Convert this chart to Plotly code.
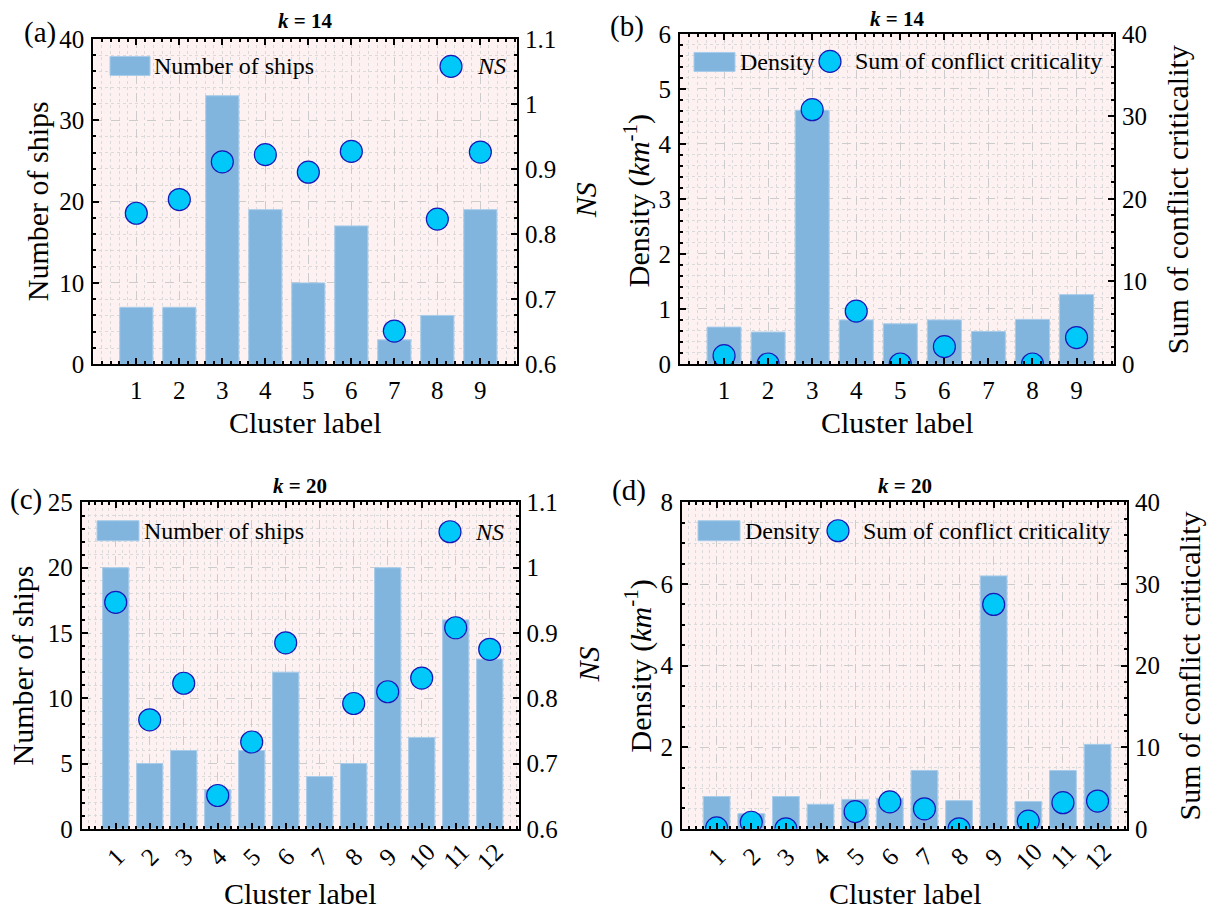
import plotly.graph_objects as go

W, H = 1212, 917

# ---------------- data ----------------
clusters_k14 = [1, 2, 3, 4, 5, 6, 7, 8, 9]
ships_k14 = [7, 7, 33, 19, 10, 17, 3, 6, 19]
ns_k14 = [0.832, 0.853, 0.911, 0.922, 0.895, 0.927, 0.651, 0.823, 0.926]
density_k14 = [0.67, 0.58, 4.61, 0.80, 0.73, 0.80, 0.59, 0.81, 1.26]
conflict_k14 = [1.0, 0.0, 30.8, 6.4, 0.0, 2.1, None, 0.0, 3.2]

clusters_k20 = [1, 2, 3, 4, 5, 6, 7, 8, 9, 10, 11, 12]
ships_k20 = [20, 5, 6, 3, 6, 12, 4, 5, 20, 7, 16, 13]
ns_k20 = [0.947, 0.767, 0.823, 0.651, 0.733, 0.885, None, 0.792, 0.810, 0.831, 0.908, 0.875]
density_k20 = [0.79, 0.37, 0.79, 0.60, 0.72, 0.75, 1.43, 0.69, 6.20, 0.67, 1.43, 2.07]
conflict_k20 = [0.1, 0.8, 0.0, None, 2.1, 3.3, 2.45, 0.0, 27.5, 0.94, 3.2, 3.4]

# ---------------- style ----------------
FONT = "Liberation Serif"
BAR_COLOR = "#81B5DE"
BAR_EDGE = "#A8CCEA"
MK_FILL = "#00C8F8"
MK_EDGE = "#1818B8"
BG = "#FDF2F1"
GRID_MAJ = "#CCCCCC"
GRID_MIN = "#DADADA"
TICK_SIZE = 25
LABEL_SIZE = 30
LEG_SIZE = 24

# vertical placement correction for the observed page rendering
V_OFF = 12.5
V_SC = 0.972


def px(x):
    return x / W


def py(y):
    return 1 - ((y - V_OFF) / V_SC) / H


panels = [
    dict(box=(93.3, 516.9, 38.3, 364.3)),
    dict(box=(680.0, 1114.0, 33.3, 364.0)),
    dict(box=(81.7, 518.6, 502.7, 829.5)),
    dict(box=(682.0, 1127.0, 502.7, 829.5)),
]

fig = go.Figure()
annotations = []
shapes = []

tick_font = dict(family=FONT, size=TICK_SIZE, color="black")


def add_panel(i, clusters, bars, pts, bar_name, pt_name, yl, yr, ylab, yrlab,
              title, tag, rotated, leg, pos):
    L, R, T, B = panels[i]["box"]
    xa = "xaxis" if i == 0 else f"xaxis{i + 1}"
    xr = "x" if i == 0 else f"x{i + 1}"
    yl_n = 2 * i + 1
    yr_n = 2 * i + 2
    yla = "yaxis" if yl_n == 1 else f"yaxis{yl_n}"
    ylr = "y" if yl_n == 1 else f"y{yl_n}"
    yra = f"yaxis{yr_n}"
    yrr = f"y{yr_n}"
    n = len(clusters)

    fig.add_trace(go.Bar(x=clusters, y=bars, name=bar_name, xaxis=xr, yaxis=ylr,
                         width=0.77, marker=dict(color=BAR_COLOR,
                                                 line=dict(color=BAR_EDGE, width=1)),
                         showlegend=False))
    fig.add_trace(go.Scatter(x=clusters, y=pts, name=pt_name, xaxis=xr, yaxis=yrr,
                             mode="markers", cliponaxis=True,
                             marker=dict(size=22, color=MK_FILL,
                                         line=dict(color=MK_EDGE, width=1.2)),
                             showlegend=False))

    fig.layout[xa] = dict(
        domain=[px(L), px(R)], anchor=ylr, range=[0, n + 0.85],
        tickmode="array", tickvals=clusters, ticktext=[str(c) for c in clusters],
        showticklabels=not rotated,
        ticks="inside", ticklen=6, tickwidth=1.5, tickcolor="black",
        showline=True, linecolor="black", linewidth=2, mirror="ticks",
        showgrid=True, gridcolor=GRID_MAJ, griddash="dash", gridwidth=1,
        zeroline=False, tickfont=tick_font, ticklabelstandoff=3,
        minor=dict(tick0=0, dtick=0.2, ticks="inside", ticklen=3, tickcolor="black",
                   showgrid=True, gridcolor=GRID_MIN, griddash="dot", gridwidth=1),
    )
    fig.layout[yla] = dict(
        domain=[py(B), py(T)], anchor=xr, range=[yl[0], yl[1]], dtick=yl[2], tick0=yl[0],
        ticks="inside", ticklen=6, tickwidth=1.5, tickcolor="black",
        showline=True, linecolor="black", linewidth=2, mirror=False,
        showgrid=True, gridcolor=GRID_MAJ, griddash="dash", gridwidth=1,
        zeroline=False, tickfont=tick_font, ticklabelstandoff=2,
        minor=dict(dtick=yl[3], ticks="inside", ticklen=3, tickcolor="black",
                   showgrid=True, gridcolor=GRID_MIN, griddash="dot", gridwidth=1),
    )
    fig.layout[yra] = dict(
        domain=[py(B), py(T)], anchor=xr, overlaying=ylr, side="right",
        range=[yr[0], yr[1]], dtick=yr[2], tick0=yr[0],
        ticks="inside", ticklen=6, tickwidth=1.5, tickcolor="black",
        showline=True, linecolor="black", linewidth=2,
        showgrid=False, zeroline=False, tickfont=tick_font, ticklabelstandoff=1,
        minor=dict(dtick=yr[3], ticks="inside", ticklen=3, tickcolor="black",
                   showgrid=False),
    )

    if rotated:
        for c in clusters:
            annotations.append(dict(text=str(c), x=c, xref=xr, y=py(pos["tick_y"]),
                                    yref="paper", showarrow=False, textangle=-45,
                                    xanchor="center", yanchor="middle",
                                    font=tick_font))

    shapes.append(dict(type="rect", xref="paper", yref="paper", layer="below",
                       x0=px(L), x1=px(R), y0=py(B), y1=py(T),
                       fillcolor=BG, line=dict(width=0)))

    cx = (L + R) / 2
    annotations.append(dict(text=title, x=px(cx), y=py(pos["title_y"]),
                            xref="paper", yref="paper", showarrow=False,
                            xanchor="center", yanchor="middle",
                            font=dict(family=FONT, size=21, color="black")))
    annotations.append(dict(text=tag, x=px(pos["tag"][0]), y=py(pos["tag"][1]),
                            xref="paper", yref="paper", showarrow=False,
                            xanchor="center", yanchor="middle",
                            font=dict(family=FONT, size=29, color="black")))
    annotations.append(dict(text="Cluster label", x=px(cx), y=py(pos["xlab_y"]),
                            xref="paper", yref="paper", showarrow=False,
                            xanchor="center", yanchor="middle",
                            font=dict(family=FONT, size=LABEL_SIZE, color="black")))
    annotations.append(dict(text=ylab, x=px(pos["yl"][0]), y=py(pos["yl"][1]),
                            xref="paper", yref="paper", showarrow=False, textangle=-90,
                            xanchor="center", yanchor="middle",
                            font=dict(family=FONT, size=LABEL_SIZE, color="black")))
    annotations.append(dict(text=yrlab, x=px(pos["yr"][0]), y=py(pos["yr"][1]),
                            xref="paper", yref="paper", showarrow=False, textangle=-90,
                            xanchor="center", yanchor="middle",
                            font=dict(family=FONT, size=LABEL_SIZE, color="black")))

    sx0, sx1, sy0, sy1 = leg["swatch"]
    shapes.append(dict(type="rect", xref="paper", yref="paper",
                       x0=px(sx0), x1=px(sx1), y0=py(sy1), y1=py(sy0),
                       fillcolor=BAR_COLOR, line=dict(color=BAR_EDGE, width=1)))
    annotations.append(dict(text=bar_name, x=px(leg["t1"]), y=py((sy0 + sy1) / 2),
                            xref="paper", yref="paper", showarrow=False,
                            xanchor="left", yanchor="middle",
                            font=dict(family=FONT, size=LEG_SIZE, color="black")))
    mx, my = leg["marker"]
    shapes.append(dict(type="circle", xref="paper", yref="paper",
                       x0=px(mx - 11), x1=px(mx + 11), y0=py(my + 11), y1=py(my - 11),
                       fillcolor=MK_FILL, line=dict(color=MK_EDGE, width=1.2)))
    annotations.append(dict(text=pt_name, x=px(leg["t2"]), y=py(my),
                            xref="paper", yref="paper", showarrow=False,
                            xanchor="left", yanchor="middle",
                            font=dict(family=FONT, size=LEG_SIZE, color="black")))


dens_label = "Density (<i>km</i><sup>-1</sup>)"
sum_label = "Sum of conflict criticality"

add_panel(0, clusters_k14, ships_k14, ns_k14, "Number of ships", "<i>NS</i>",
          (0, 40, 10, 2), (0.6, 1.1, 0.1, 0.025), "Number of ships", "<i>NS</i>",
          "<b><i>k</i> = 14</b>", "(a)", False,
          dict(swatch=(110, 150, 56, 75), t1=152, marker=(451, 66), t2=475),
          dict(title_y=21, tag=(40, 32), xlab_y=423, yl=(37, 201), yr=(585, 200)))

add_panel(1, clusters_k14, density_k14, conflict_k14, "Density", "Sum of conflict criticality",
          (0, 6, 1, 0.2), (0, 40, 10, 2), dens_label, sum_label,
          "<b><i>k</i> = 14</b>", "(b)", False,
          dict(swatch=(694, 735, 52, 71), t1=738, marker=(830, 61), t2=853),
          dict(title_y=19, tag=(627, 26), xlab_y=423, yl=(637, 200), yr=(1177, 200)))

add_panel(2, clusters_k20, ships_k20, ns_k20, "Number of ships", "<i>NS</i>",
          (0, 25, 5, 1), (0.6, 1.1, 0.1, 0.02), "Number of ships", "<i>NS</i>",
          "<b><i>k</i> = 20</b>", "(c)", True,
          dict(swatch=(97, 139, 521, 541), t1=142, marker=(450, 532), t2=473),
          dict(title_y=486, tag=(26, 500), xlab_y=894, yl=(23, 666), yr=(589, 665),
               tick_y=857))

add_panel(3, clusters_k20, density_k20, conflict_k20, "Density", "Sum of conflict criticality",
          (0, 8, 2, 0.5), (0, 40, 10, 2), dens_label, sum_label,
          "<b><i>k</i> = 20</b>", "(d)", True,
          dict(swatch=(698, 740, 521, 541), t1=743, marker=(838, 531), t2=861),
          dict(title_y=486, tag=(629, 491), xlab_y=894, yl=(639, 667), yr=(1190, 667),
               tick_y=857))

fig.update_layout(
    width=W, height=H, margin=dict(l=0, r=0, t=0, b=0),
    paper_bgcolor="white", plot_bgcolor="rgba(0,0,0,0)",
    showlegend=False, barmode="overlay",
    font=dict(family=FONT, color="black"),
    annotations=annotations, shapes=shapes,
)

fig.write_html("out.html", config={"displayModeBar": False},
               post_script="document.body.style.margin='0';document.body.style.overflow='hidden';")
